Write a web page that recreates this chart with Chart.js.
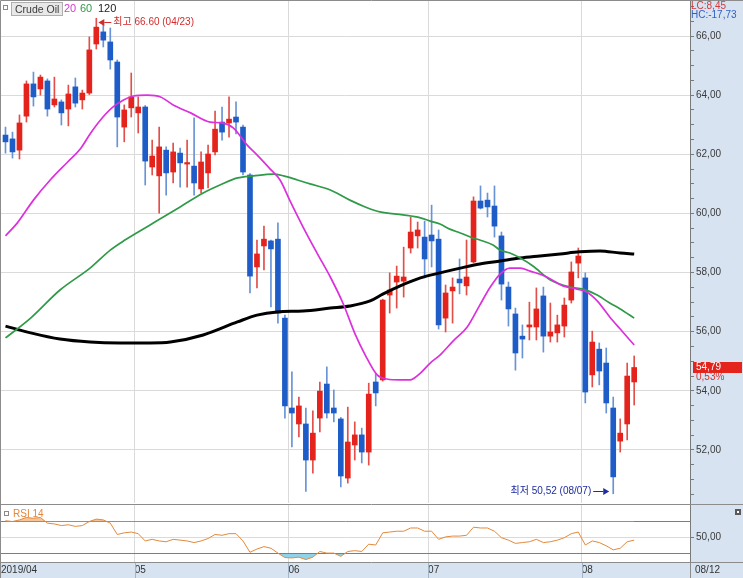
<!DOCTYPE html>
<html>
<head>
<meta charset="utf-8">
<script src="https://cdn.jsdelivr.net/npm/chart.js@4.4.1/dist/chart.umd.min.js"></script>
<style>
  html, body { margin:0; padding:0; background:#ffffff; }
  #wrap { position:relative; width:743px; height:578px; overflow:hidden; font-family:"Liberation Sans","Noto Sans CJK KR",sans-serif; }
  canvas { position:absolute; left:0; display:block; }
  #priceCanvas { top:0; }
  #rsiCanvas { top:504px; }
  .lg { position:absolute; top:2px; font-size:11px; line-height:13px; white-space:nowrap; }
</style>
</head>
<body>
<div id="wrap">
  <canvas id="priceCanvas" width="743" height="504"></canvas>
  <canvas id="rsiCanvas" width="743" height="74"></canvas>
  <div class="lg" style="left:3px;top:5px;width:3px;height:3px;border:1px solid #8a8a8a;background:#fff;"></div>
  <div class="lg" style="left:11px;top:2px;height:12px;line-height:12px;padding:0 3px;background:#e8e8e8;border:1px solid #aeaeae;color:#3c3c3c;font-size:10.5px;">Crude Oil</div>
  <div class="lg" style="left:64px;color:#d23cd2;">20</div>
  <div class="lg" style="left:80px;color:#2f9a48;">60</div>
  <div class="lg" style="left:98px;color:#1a1a1a;">120</div>
</div>
<script>
// ---------------- data ----------------
const firstYear = '2019';
const dates = [
  '04/03','04/04','04/05','04/08','04/09','04/10','04/11','04/12','04/15','04/16','04/17','04/18','04/22','04/23','04/24','04/25','04/26','04/29','04/30',
  '05/01','05/02','05/03','05/06','05/07','05/08','05/09','05/10','05/13','05/14','05/15','05/16','05/17','05/20','05/21','05/22','05/23','05/24','05/28','05/29','05/30','05/31',
  '06/03','06/04','06/05','06/06','06/07','06/10','06/11','06/12','06/13','06/14','06/17','06/18','06/19','06/20','06/21','06/24','06/25','06/26','06/27','06/28',
  '07/01','07/02','07/03','07/05','07/08','07/09','07/10','07/11','07/12','07/15','07/16','07/17','07/18','07/19','07/22','07/23','07/24','07/25','07/26','07/29','07/30','07/31',
  '08/01','08/02','08/05','08/06','08/07','08/08','08/09','08/12'
];
const openP = [
  62.65,62.52,62.14,63.29,64.38,64.21,64.48,63.67,63.77,63.53,
  64.28,63.84,64.07,65.73,66.14,65.80,65.12,62.92,63.57,63.40,
  63.60,61.57,61.27,62.14,61.40,62.04,61.67,61.60,60.83,61.37,
  62.08,63.09,63.06,63.26,62.92,61.30,58.19,58.90,59.07,59.13,
  56.46,53.42,52.88,52.88,51.66,53.08,54.23,53.42,53.05,51.05,
  52.17,52.51,51.93,54.30,54.37,57.24,57.68,57.71,58.83,59.24,
  59.20,59.27,59.13,56.46,57.38,57.78,57.55,58.36,60.42,60.45,
  60.25,59.24,57.51,56.60,55.85,56.16,56.16,57.21,55.85,55.96,
  56.19,57.07,58.32,57.82,54.54,55.41,54.94,53.42,52.30,52.88,
  54.30];
const highP = [
  62.92,62.75,63.33,64.48,64.78,64.68,64.55,64.61,63.84,64.34,
  64.58,64.17,65.97,66.60,66.44,66.27,65.19,63.67,64.75,63.94,
  63.65,62.48,62.92,62.25,62.38,62.21,62.48,63.23,62.08,62.31,
  63.46,63.60,63.94,63.77,62.99,61.35,59.10,59.57,59.10,59.68,
  56.56,54.64,53.79,53.42,53.32,54.30,54.81,54.03,53.10,53.45,
  52.95,52.74,54.26,54.57,57.10,57.99,58.22,58.86,59.88,59.71,
  59.74,60.28,59.44,57.58,57.82,58.46,59.10,60.56,60.93,60.69,
  60.93,59.37,57.68,56.80,56.23,57.00,57.48,57.51,56.97,56.56,
  57.14,58.36,58.83,57.99,56.02,55.62,55.45,53.79,53.05,54.94,
  55.18];
const lowP = [
  62.04,61.87,61.84,63.09,63.63,64.00,63.29,63.60,62.99,62.96,
  63.60,63.53,64.02,65.56,65.63,64.88,62.25,62.42,63.26,62.72,
  60.96,61.30,60.01,60.62,61.03,60.89,60.89,60.62,60.69,60.86,
  61.98,62.48,62.58,62.69,61.30,57.31,57.48,58.09,56.84,56.29,
  53.08,52.10,52.44,50.60,51.22,52.61,53.08,52.95,50.75,50.88,
  51.66,51.56,51.49,53.49,54.33,56.63,56.80,57.17,58.66,58.83,
  57.82,58.19,56.09,55.99,56.29,57.28,57.24,58.33,60.15,59.88,
  59.20,57.07,56.19,54.70,55.11,55.72,55.72,55.31,55.65,55.65,
  55.82,56.97,57.82,53.59,54.13,54.20,53.25,50.52,51.93,52.34,
  53.52];
const closeP = [
  62.42,62.08,63.06,64.38,63.94,64.61,63.53,63.87,63.40,64.04,
  63.73,64.07,65.53,66.30,65.86,65.19,63.26,63.50,63.94,63.60,
  61.77,61.94,62.25,61.37,62.08,61.71,61.72,61.03,61.74,62.01,
  62.85,62.75,63.19,63.09,61.40,57.88,58.63,59.13,58.80,56.63,
  53.49,53.25,53.49,51.66,52.57,53.99,53.25,53.25,51.12,52.27,
  52.51,51.93,53.89,53.93,57.07,57.41,57.88,57.85,59.37,59.44,
  58.46,59.07,56.23,57.31,57.51,57.65,57.85,60.42,60.18,60.22,
  59.57,57.61,56.77,55.28,55.75,56.23,56.77,55.85,55.99,56.23,
  56.90,58.02,58.56,53.96,55.65,54.67,53.59,51.09,52.57,54.50,
  54.79];
// moving averages (x = candle position)
const ma20X = [0,1.7,4,6.4,8.9,10.7,12.2,13.6,15.4,16.9,18.3,20.3,22.2,24,26.5,29.3,31,32.6,34.6,36,37.9,39.3,40.8,42.6,44.6,46.5,48.3,50.1,51.5,53.2,54.6,56.5,57.9,59.4,60.8,62.2,64.1,66.1,67.9,69.4,70.8,72.2,73.7,75.1,77.5,79.8,81.8,83.2,84.7,86.5,88,90];
const ma20Y = [59.24,59.68,60.45,61.13,61.74,62.18,62.72,63.16,63.60,63.84,63.97,64.00,63.94,63.67,63.40,63.09,63.06,62.89,62.31,61.98,61.50,61.13,60.39,59.54,58.66,57.85,56.97,55.89,55.21,54.54,54.40,54.37,54.37,54.60,54.94,55.21,55.69,56.16,56.90,57.51,57.95,58.15,58.15,58.05,57.85,57.55,57.44,57.34,57.04,56.50,56.09,55.55];
const ma60X = [0,3.6,7.8,12.1,15,17.1,20.7,25,28.3,30.7,33.2,35.5,38.3,39.8,41.8,43.6,46.5,49.3,51.5,53.6,56.9,59.4,60.8,62.2,63.6,65.1,66.9,67.9,69.8,70.8,72.2,73.7,75.5,78,80.8,82.7,84.7,86.5,88,90];
const ma60Y = [55.79,56.46,57.41,58.15,58.76,59.10,59.61,60.22,60.69,60.96,61.20,61.27,61.33,61.27,61.13,61.00,60.79,60.45,60.22,60.05,59.95,59.85,59.74,59.64,59.47,59.34,59.17,59.10,58.93,58.76,58.66,58.49,58.22,57.75,57.51,57.44,57.24,56.97,56.77,56.46];
const ma120X = [0,3.6,7.8,12.1,16.4,20.7,23.6,28.3,33.2,36,38.9,42.6,46.5,49.3,52.2,54,56.5,59.4,62.2,65.1,67.9,70.8,73.7,76.5,79.4,82.2,85.1,88,90];
const ma120Y = [56.19,55.96,55.75,55.65,55.62,55.62,55.65,55.89,56.33,56.56,56.67,56.70,56.80,56.87,57.04,57.27,57.55,57.82,57.99,58.15,58.29,58.39,58.49,58.56,58.63,58.70,58.73,58.66,58.63];
const rsi14 = [
  71,70,72,75,74,75,68,67,65,66,
  64,65,70,73,72,68,54,56,57,55,
  46,48,46,45,48,47,46,44,46,49,
  54,53,55,55,46,32,36,39,37,31,
  25.5,25,26,23,26,33,31,31,27,33,
  34,33,42,41,56,57,58,58,62,62,
  58,58,48,51,52,52,53,63,62,62,
  58,50,47,43,44,45,48,44,45,47,
  50,55,57,41,46,44,40,35,37,45,
  47];
const priceTickValues = [52,54,56,58,60,62,64,66];
const rsiTickValues = [30,50,70];
const rsiLabelValue = 50;

// ---------------- style / layout ----------------
const RED = '#e3231c', BLUE = '#1e5cc8', RED_W = '#e24e48', BLUE_W = '#6893d6';
const AXIS_BG = '#d7e3f1';
const FONT = '"Liberation Sans","Noto Sans CJK KR",sans-serif';
const X_MIN = -0.644, X_MAX = 97.99, Y_MIN = 50.207, Y_MAX = 67.184;
const AXIS_W = 53;

Chart.defaults.font.family = FONT;
Chart.defaults.font.size = 10;

const n = closeP.length;
const idx = dates.map((_, i) => i);
const monthStarts = idx.filter(i => i > 0 && dates[i].slice(0,2) !== dates[i-1].slice(0,2));
const monthBounds = monthStarts.map(i => i - 0.5);
const monthLabels = monthStarts.map(i => dates[i].slice(0,2));
const fmt = v => v.toFixed(2).replace('.', ',');
const isUp = i => closeP[i] >= openP[i];
const hiIdx = highP.indexOf(Math.max(...highP));
const loIdx = lowP.indexOf(Math.min(...lowP));
const pts = (xs, ys) => xs.map((x, k) => ({x, y: ys[k]}));
const T = 'rgba(0,0,0,0)';
const noPadV = s => { s.paddingTop = 0; s.paddingBottom = 0; s.width = AXIS_W; };
const noPadH = h => s => { s.paddingLeft = 0; s.paddingRight = 0; s.height = h; };

const priceDeco = {
  id: 'priceDeco',
  beforeDraw(chart) {
    const {ctx, chartArea: a, width, height} = chart;
    ctx.save();
    ctx.fillStyle = '#ffffff'; ctx.fillRect(0, 0, width, height);
    ctx.fillStyle = AXIS_BG; ctx.fillRect(a.right, 0, width - a.right, height);
    ctx.restore();
  },
  afterDraw(chart) {
    const {ctx, chartArea: a, width, height, scales: {x, y}} = chart;
    ctx.save();
    ctx.strokeStyle = '#8c8c8c'; ctx.lineWidth = 1;
    ctx.beginPath(); ctx.moveTo(0.5, height); ctx.lineTo(0.5, 0.5); ctx.lineTo(width, 0.5); ctx.stroke();
    ctx.font = '10px ' + FONT; ctx.textBaseline = 'middle';
    // highest
    let px = x.getPixelForValue(hiIdx), py = Math.round(y.getPixelForValue(highP[hiIdx])) + 4.5;
    ctx.fillStyle = '#d42a2a';
    ctx.beginPath(); ctx.moveTo(px + 2, py); ctx.lineTo(px + 8, py - 3.5); ctx.lineTo(px + 8, py + 3.5); ctx.closePath(); ctx.fill();
    ctx.fillRect(px + 8, py - 0.5, 7, 1);
    ctx.textAlign = 'left';
    ctx.fillText('최고 ' + highP[hiIdx].toFixed(2) + ' (' + dates[hiIdx] + ')', px + 17, py);
    // lowest
    px = x.getPixelForValue(loIdx); py = Math.round(y.getPixelForValue(lowP[loIdx])) - 2.5;
    ctx.fillStyle = '#1f2d9e';
    ctx.beginPath(); ctx.moveTo(px - 4, py); ctx.lineTo(px - 10, py - 3.5); ctx.lineTo(px - 10, py + 3.5); ctx.closePath(); ctx.fill();
    ctx.fillRect(px - 20, py - 0.5, 10, 1);
    ctx.textAlign = 'right';
    ctx.fillText('최저 ' + fmt(lowP[loIdx]) + ' (' + dates[loIdx] + ')', px - 22, py);
    // LC / HC
    const last = closeP[n - 1];
    ctx.textAlign = 'left';
    ctx.fillStyle = '#d23b3b'; ctx.fillText('LC:' + fmt((last - lowP[loIdx]) / lowP[loIdx] * 100), a.right + 1, 6);
    ctx.fillStyle = '#2f5fc4'; ctx.fillText('HC:' + fmt((last - highP[hiIdx]) / highP[hiIdx] * 100), a.right + 1, 15.5);
    // last price tag
    const ly = Math.round(y.getPixelForValue(last));
    ctx.fillStyle = RED; ctx.fillRect(a.right + 3, ly - 5, width - a.right - 4, 11);
    ctx.fillStyle = '#ffffff'; ctx.fillText(fmt(last), a.right + 6, ly + 0.5);
    ctx.fillStyle = '#d8322c'; ctx.fillText(fmt((last - closeP[n-2]) / closeP[n-2] * 100) + '%', a.right + 6, ly + 10.5);
    ctx.restore();
  }
};

new Chart(document.getElementById('priceCanvas'), {
  type: 'bar',
  data: {
    datasets: [
      {type: 'line', label: '20', data: pts(ma20X, ma20Y), borderColor: '#dc30dc', borderWidth: 1.7, pointRadius: 0, cubicInterpolationMode: 'monotone', order: 0},
      {type: 'line', label: '60', data: pts(ma60X, ma60Y), borderColor: '#2f9a48', borderWidth: 1.7, pointRadius: 0, cubicInterpolationMode: 'monotone', order: 0},
      {type: 'line', label: '120', data: pts(ma120X, ma120Y), borderColor: '#000000', borderWidth: 3, pointRadius: 0, cubicInterpolationMode: 'monotone', order: 0},
      {type: 'bar', label: 'body', data: idx.map(i => ({x: i, y: [openP[i], closeP[i]]})),
        backgroundColor: idx.map(i => isUp(i) ? RED : BLUE), barThickness: 5, minBarLength: 1, grouped: false, order: 1},
      {type: 'bar', label: 'wick', data: idx.map(i => ({x: i, y: [lowP[i], highP[i]]})),
        backgroundColor: idx.map(i => isUp(i) ? RED_W : BLUE_W), barThickness: 1, grouped: false, order: 2}
    ]
  },
  options: {
    responsive: false, animation: false, events: [],
    layout: {padding: {left: 1, top: 1, right: 0, bottom: 1}},
    plugins: {legend: {display: false}, tooltip: {enabled: false}},
    scales: {
      x: {type: 'linear', min: X_MIN, max: X_MAX, offset: false,
        afterBuildTicks: s => { s.ticks = monthBounds.map(v => ({value: v})); },
        ticks: {display: false},
        grid: {color: '#dadada', drawTicks: false, offset: false},
        border: {display: false},
        afterFit: noPadH(0)},
      y: {position: 'right', min: Y_MIN, max: Y_MAX,
        afterBuildTicks: s => {
          const t = [];
          for (let k = Math.ceil(Y_MIN * 2); k <= Math.floor(Y_MAX * 2); k++) t.push({value: k / 2});
          s.ticks = t;
        },
        ticks: {autoSkip: false, padding: 2, color: '#3a3a3a', font: {size: 10},
          callback: v => priceTickValues.includes(v) ? fmt(v) : ''},
        grid: {color: c => (c.tick && priceTickValues.includes(c.tick.value)) ? '#dadada' : T,
          tickColor: '#7a7a7a', tickLength: 4},
        border: {color: '#7a7a7a'},
        afterFit: noPadV}
    }
  },
  plugins: [priceDeco]
});

const rsiDeco = {
  id: 'rsiDeco',
  beforeDraw(chart) {
    const {ctx, chartArea: a, width, height} = chart;
    ctx.save();
    ctx.fillStyle = '#ffffff'; ctx.fillRect(0, 0, width, height);
    ctx.fillStyle = AXIS_BG;
    ctx.fillRect(a.right, 0, width - a.right, height);
    ctx.fillRect(0, a.bottom, width, height - a.bottom);
    ctx.restore();
  },
  afterDraw(chart) {
    const {ctx, chartArea: a, width, height, scales: {x}} = chart;
    ctx.save();
    ctx.strokeStyle = '#8c8c8c'; ctx.lineWidth = 1;
    ctx.beginPath();
    ctx.moveTo(0, 0.5); ctx.lineTo(width, 0.5);
    ctx.moveTo(0, a.bottom + 0.5); ctx.lineTo(width, a.bottom + 0.5);
    ctx.moveTo(0.5, 0); ctx.lineTo(0.5, height);
    ctx.moveTo(a.right + 0.5, a.bottom); ctx.lineTo(a.right + 0.5, height);
    ctx.stroke();
    ctx.strokeStyle = '#a3b4c7';
    ctx.beginPath();
    monthBounds.forEach(v => { const p = Math.round(x.getPixelForValue(v)) + 0.5; ctx.moveTo(p, a.bottom + 1); ctx.lineTo(p, height); });
    ctx.stroke();
    ctx.font = '10px ' + FONT; ctx.textBaseline = 'middle'; ctx.textAlign = 'left';
    ctx.fillStyle = '#333333';
    ctx.fillText(dates[n - 1], a.right + 5, a.bottom + 8.5);
    // panel title
    ctx.strokeStyle = '#8a8a8a';
    ctx.strokeRect(4.5, 7.5, 4, 4);
    ctx.fillStyle = '#e3873a';
    ctx.fillText('RSI 14', 13, 10);
    // corner icon
    ctx.fillStyle = '#5a5a5a'; ctx.fillRect(735, 5, 6, 6);
    ctx.fillStyle = '#ffffff'; ctx.fillRect(737, 7, 2, 2);
    ctx.restore();
  }
};

new Chart(document.getElementById('rsiCanvas'), {
  type: 'line',
  data: {
    datasets: [
      {label: 'RSI 14', data: idx.map(i => ({x: i, y: rsi14[i]})), borderColor: '#e38a3c', borderWidth: 1, pointRadius: 0, tension: 0,
        fill: {target: {value: 70}, above: '#f7c497', below: T}},
      {label: 'RSI low', data: idx.map(i => ({x: i, y: rsi14[i]})), borderColor: T, borderWidth: 0, pointRadius: 0, tension: 0,
        fill: {target: {value: 30}, above: T, below: '#8fd3ea'}}
    ]
  },
  options: {
    responsive: false, animation: false, events: [],
    layout: {padding: {left: 1, top: 1, right: 0, bottom: 0}},
    plugins: {legend: {display: false}, tooltip: {enabled: false}},
    scales: {
      x: {type: 'linear', min: X_MIN, max: X_MAX, offset: false,
        afterBuildTicks: s => { s.ticks = [{value: X_MIN}].concat(monthBounds.map(v => ({value: v}))); },
        ticks: {autoSkip: false, maxRotation: 0, minRotation: 0, align: 'start', padding: 2, color: '#333333', font: {size: 10},
          callback: (v, k) => k === 0 ? firstYear + '/' + dates[0].slice(0, 2) : monthLabels[k - 1]},
        grid: {color: c => c.index === 0 ? T : '#dadada', drawTicks: false},
        border: {display: false},
        afterFit: noPadH(16)},
      y: {position: 'right', min: 20, max: 90.4,
        afterBuildTicks: s => { s.ticks = rsiTickValues.map(v => ({value: v})); },
        ticks: {autoSkip: false, padding: 2, color: '#3a3a3a', font: {size: 10},
          callback: v => v === rsiLabelValue ? fmt(v) : ''},
        grid: {color: c => (c.tick && c.tick.value === rsiLabelValue) ? '#dadada' : '#7d7d7d',
          tickColor: c => (c.tick && c.tick.value === rsiLabelValue) ? '#7a7a7a' : T, tickLength: 4},
        border: {color: '#7a7a7a'},
        afterFit: noPadV}
    }
  },
  plugins: [rsiDeco]
});
</script>
</body>
</html>
